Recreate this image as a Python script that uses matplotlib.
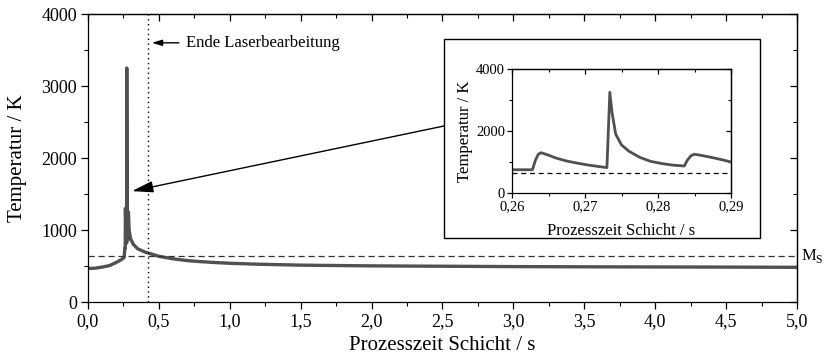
import matplotlib
matplotlib.use("Agg")
import matplotlib.pyplot as plt
from matplotlib.patches import Rectangle
from matplotlib.ticker import MultipleLocator, FuncFormatter, NullFormatter

plt.rcParams['font.family'] = ['Liberation Serif', 'DejaVu Serif']
plt.rcParams['mathtext.fontset'] = 'custom'
plt.rcParams['mathtext.rm'] = 'Liberation Serif'

# main trace: process time per layer (s) vs temperature (K)
t_main = [0.0, 0.05, 0.1, 0.15, 0.2, 0.24, 0.255, 0.26, 0.2628, 0.2638,
          0.266, 0.27, 0.273, 0.2734, 0.2745, 0.276, 0.279, 0.2835, 0.2848,
          0.29, 0.30, 0.32, 0.35, 0.4, 0.45, 0.5, 0.6, 0.7, 0.8, 0.9, 1.0,
          1.2, 1.5, 2.0, 2.5, 3.0, 3.5, 4.0, 4.5, 5.0]
T_main = [465, 470, 485, 505, 550, 595, 620, 750, 750, 1300,
          1150, 900, 820, 3250, 2000, 1550, 1150, 870, 1250,
          1000, 880, 800, 740, 695, 665, 635, 600, 575, 560, 548, 538,
          525, 512, 502, 497, 492, 489, 487, 485, 482]

# zoomed trace for the inset
t_zoom = [0.26, 0.2628, 0.2632, 0.2636, 0.2640, 0.2650, 0.2660, 0.2675,
          0.2690, 0.2705, 0.2720, 0.2730, 0.2731, 0.2734, 0.2737, 0.2742,
          0.2750, 0.2760, 0.2775, 0.2790, 0.2805, 0.2820, 0.2836, 0.2840,
          0.2845, 0.2850, 0.2860, 0.2875, 0.2890, 0.2900]
T_zoom = [750, 750, 1050, 1250, 1300, 1220, 1130, 1030,
          960, 900, 850, 820, 1400, 3250, 2600, 1900,
          1550, 1350, 1150, 1020, 950, 900, 870, 1050,
          1200, 1250, 1210, 1140, 1060, 1000]

T_ms = 640          # M_S level
t_laser_end = 0.42  # end of laser processing

line_col = '#505050'


def comma(x, pos, nd):
    return f"{x:.{nd}f}".replace('.', ',')


def style_axes(a, xmaj, xmin, ymaj, ymin, nd, lsize, maj, mnr, pad):
    # bottom/left ticks point out, top/right ticks point in
    a.xaxis.set_major_locator(MultipleLocator(xmaj))
    a.xaxis.set_minor_locator(MultipleLocator(xmin))
    a.yaxis.set_major_locator(MultipleLocator(ymaj))
    a.yaxis.set_minor_locator(MultipleLocator(ymin))
    a.xaxis.set_major_formatter(FuncFormatter(lambda x, p: comma(x, p, nd)))
    a.tick_params(which='both', direction='out', labelsize=lsize, pad=pad)
    a.tick_params(which='major', length=maj, width=0.9)
    a.tick_params(which='minor', length=mnr, width=0.8)
    for s in a.spines.values():
        s.set_linewidth(0.9)
    top = a.secondary_xaxis('top')
    right = a.secondary_yaxis('right')
    for sec, axis in ((top, top.xaxis), (right, right.yaxis)):
        axis.set_major_locator(MultipleLocator(xmaj if sec is top else ymaj))
        axis.set_minor_locator(MultipleLocator(xmin if sec is top else ymin))
        axis.set_major_formatter(NullFormatter())
        sec.tick_params(which='both', direction='in')
        sec.tick_params(which='major', length=maj, width=0.9)
        sec.tick_params(which='minor', length=mnr, width=0.8)
        for s in sec.spines.values():
            s.set_linewidth(0.9)


fig = plt.figure(figsize=(8.27, 3.62), dpi=100)
ax = fig.add_axes([0.1064, 0.1657, 0.8573, 0.7956])

ax.plot(t_main, T_main, color=line_col, lw=2.4, solid_joinstyle='round')
ax.axhline(T_ms, color='#333333', lw=0.9, ls=(0, (5, 3)))
ax.axvline(t_laser_end, color='black', lw=1.0, ls=(0, (1, 2.5)))

ax.set_xlim(0, 5)
ax.set_ylim(0, 4000)
style_axes(ax, 0.5, 0.25, 1000, 500, 1, 13, 5, 3, 3)
ax.set_xlabel('Prozesszeit Schicht / s', fontsize=15, labelpad=4)
ax.set_ylabel('Temperatur / K', fontsize=15, labelpad=10)

ax.text(5.03, T_ms, r'M$_\mathregular{S}$', fontsize=12, va='center', ha='left',
        clip_on=False)

ax.annotate('Ende Laserbearbeitung', xy=(0.45, 3600), xytext=(0.69, 3600),
            fontsize=12, va='center', ha='left',
            arrowprops=dict(arrowstyle='-|>,head_length=0.5,head_width=0.15',
                            color='black', lw=1.0, shrinkA=3, shrinkB=0))

# frame around the inset
fig.patches.append(Rectangle((444 / 827, (362 - 238) / 362), 316 / 827, 199 / 362,
                             transform=fig.transFigure, fill=True, fc='white',
                             ec='black', lw=1.0, zorder=3))

ax.annotate('', xy=(0.31, 1540), xycoords='data',
            xytext=(444 / 827, (362 - 126) / 362), textcoords='figure fraction',
            arrowprops=dict(arrowstyle='-|>,head_length=1.3,head_width=0.35',
                            color='black', lw=1.0, shrinkA=0, shrinkB=0))

ins = fig.add_axes([512 / 827, (362 - 193) / 362, 219 / 827, 124 / 362], zorder=4)
ins.plot(t_zoom, T_zoom, color=line_col, lw=2.0, solid_joinstyle='round')
ins.axhline(T_ms, color='black', lw=0.9, ls=(0, (4, 3)))
ins.set_xlim(0.26, 0.29)
ins.set_ylim(0, 4000)
style_axes(ins, 0.01, 0.005, 2000, 1000, 2, 10.5, 3.5, 2, 1.5)
ins.set_xlabel('Prozesszeit Schicht / s', fontsize=12, labelpad=7)
ins.set_ylabel('Temperatur / K', fontsize=12, labelpad=2)

fig.savefig('out.png', dpi=100)
